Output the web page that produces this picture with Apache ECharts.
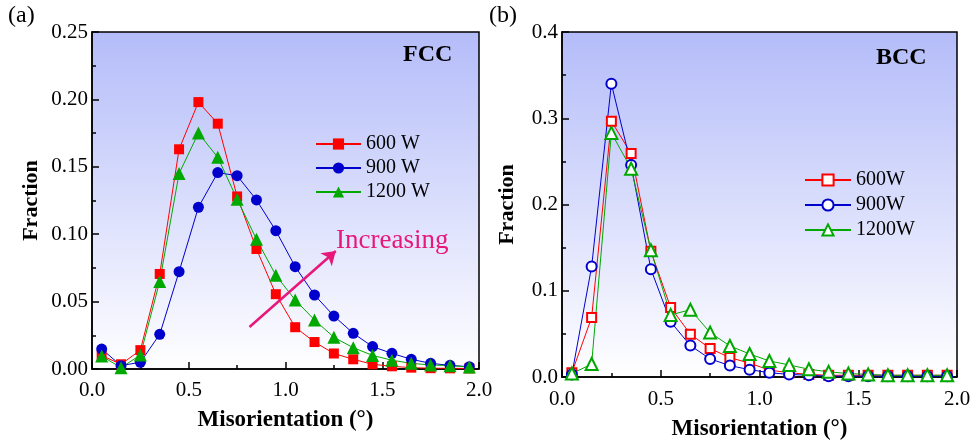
<!DOCTYPE html>
<html>
<head>
<meta charset="utf-8">
<script src="https://cdn.jsdelivr.net/npm/echarts@6/dist/echarts.min.js"></script>
<style>
  html, body { margin: 0; padding: 0; background: #fff; }
  #chart { width: 971px; height: 440px; }
</style>
</head>
<body>
<div id="chart"></div>
<script>
// misorientation bins (deg)
var misAngle = [0.05, 0.15, 0.25, 0.35, 0.45, 0.55, 0.65, 0.75, 0.85, 0.95,
                1.05, 1.15, 1.25, 1.35, 1.45, 1.55, 1.65, 1.75, 1.85, 1.95];

// (a) FCC
var fcc600 = [0.010, 0.0035, 0.014, 0.0705, 0.163, 0.198, 0.182, 0.128, 0.089, 0.0555,
              0.031, 0.020, 0.0115, 0.0072, 0.0035, 0.002, 0.001, 0.0006, 0.0005, 0.0004];
var fcc900 = [0.0148, 0.0025, 0.005, 0.0257, 0.0722, 0.120, 0.1457, 0.1434, 0.1254, 0.1026,
              0.0759, 0.0549, 0.0393, 0.0265, 0.0166, 0.0116, 0.0072, 0.0042, 0.0027, 0.0017];
var fcc1200 = [0.0096, 0.001, 0.0104, 0.065, 0.145, 0.175, 0.157, 0.126, 0.0962, 0.0695,
               0.0512, 0.0364, 0.0235, 0.0158, 0.0101, 0.0065, 0.0042, 0.003, 0.0025, 0.0015];

// (b) BCC
var bcc600 = [0.005, 0.069, 0.2965, 0.259, 0.1457, 0.0806, 0.0496, 0.033, 0.0225, 0.016,
              0.008, 0.005, 0.003, 0.002, 0.002, 0.002, 0.002, 0.002, 0.002, 0.002];
var bcc900 = [0.003, 0.128, 0.340, 0.2457, 0.125, 0.064, 0.0364, 0.021, 0.0132, 0.0085,
              0.005, 0.003, 0.002, 0.001, 0.001, 0.001, 0.001, 0.001, 0.001, 0.001];
var bcc1200 = [0.004, 0.015, 0.283, 0.2415, 0.147, 0.072, 0.078, 0.0515, 0.036, 0.0267,
               0.0186, 0.014, 0.009, 0.006, 0.004, 0.003, 0.002, 0.002, 0.002, 0.002];

// arrow "Increasing" in panel (a), data coords
var arrowFrom = [0.814, 0.0312];
var arrowTo = [1.26, 0.0875];

function pairs(ys) {
  return misAngle.map(function (x, i) { return [x, ys[i]]; });
}

var serif = 'Liberation Serif';
var bgGrad = new echarts.graphic.LinearGradient(0, 0, 0, 1, [
  { offset: 0, color: '#b4bcf9' },
  { offset: 1, color: '#ffffff' }
]);

function xAxisOpt(idx, gap, margin) {
  return {
    type: 'value', gridIndex: idx, min: 0, max: 2, interval: 0.5,
    name: 'Misorientation (°)', nameLocation: 'middle', nameGap: gap,
    nameTextStyle: { fontFamily: serif, fontWeight: 'bold', fontSize: 23, color: '#000' },
    axisLine: { lineStyle: { color: '#000', width: 1.5 } },
    axisTick: { inside: true, length: 7, lineStyle: { color: '#000', width: 1.5 } },
    minorTick: { show: true, splitNumber: 2, length: 4, lineStyle: { color: '#000', width: 1.5 } },
    splitLine: { show: false },
    axisLabel: { fontFamily: serif, fontSize: 21, color: '#000', margin: margin,
      formatter: function (v) { return v.toFixed(1); } }
  };
}

function yAxisOpt(idx, max, interval, dec, gap) {
  return {
    type: 'value', gridIndex: idx, min: 0, max: max, interval: interval,
    name: 'Fraction', nameLocation: 'middle', nameGap: gap,
    nameTextStyle: { fontFamily: serif, fontWeight: 'bold', fontSize: 22, color: '#000' },
    axisLine: { lineStyle: { color: '#000', width: 1.5 } },
    axisTick: { inside: true, length: 7, lineStyle: { color: '#000', width: 1.5 } },
    minorTick: { show: true, splitNumber: 2, length: 4, lineStyle: { color: '#000', width: 1.5 } },
    splitLine: { show: false },
    axisLabel: { fontFamily: serif, fontSize: 21, color: '#000', margin: 4,
      formatter: function (v) { return v.toFixed(dec); } }
  };
}

function lineSeries(name, idx, ys, symbol, size, color, hollow) {
  return {
    name: name, type: 'line', xAxisIndex: idx, yAxisIndex: idx,
    data: pairs(ys),
    symbol: symbol, symbolSize: size, showAllSymbol: true,
    lineStyle: { color: color, width: 1 },
    itemStyle: hollow ? { color: color, borderColor: color, borderWidth: 2 } : { color: color },
    emphasis: { disabled: true }
  };
}

var series = [
  lineSeries('600 W', 0, fcc600, 'rect', 10, '#ff0000', false),
  lineSeries('900 W', 0, fcc900, 'circle', 11, '#0000cc', false),
  lineSeries('1200 W', 0, fcc1200, 'triangle', 13, '#00a800', false),
  lineSeries('600W', 1, bcc600, 'emptyRect', 9, '#ff0000', true),
  lineSeries('900W', 1, bcc900, 'emptyCircle', 10, '#0000cc', true),
  lineSeries('1200W', 1, bcc1200, 'emptyTriangle', 12, '#00a800', true)
];

series[2].markLine = {
  silent: true, symbol: ['none', 'arrow'], symbolSize: 13,
  label: { show: false },
  lineStyle: { color: '#e8177a', width: 2.5, type: 'solid' },
  itemStyle: { color: '#e8177a' },
  data: [[{ coord: arrowFrom }, { coord: arrowTo }]]
};

var legendText = { fontFamily: serif, fontSize: 20, color: '#000' };

var option = {
  animation: false,
  backgroundColor: '#fff',
  grid: [
    { left: 92, top: 32, width: 387, height: 337, show: true, backgroundColor: bgGrad,
      borderColor: '#000', borderWidth: 1.5, outerBoundsMode: 'none', containLabel: false },
    { left: 562, top: 32, width: 395, height: 345, show: true, backgroundColor: bgGrad,
      borderColor: '#000', borderWidth: 1.5, outerBoundsMode: 'none', containLabel: false }
  ],
  xAxis: [xAxisOpt(0, 40, 11), xAxisOpt(1, 41, 12)],
  yAxis: [yAxisOpt(0, 0.25, 0.05, 2, 50), yAxisOpt(1, 0.4, 0.1, 1, 44)],
  legend: [
    { data: ['600 W', '900 W', '1200 W'], orient: 'vertical', left: 310, top: 129,
      itemWidth: 45, itemHeight: 14, itemGap: 4, textStyle: legendText, selectedMode: false },
    { data: ['600W', '900W', '1200W'], orient: 'vertical', left: 799, top: 165,
      itemWidth: 46, itemHeight: 14, itemGap: 5, textStyle: legendText, selectedMode: false }
  ],
  graphic: [
    { type: 'text', left: 8, top: 4, style: { text: '(a)', font: '24px "Liberation Serif"', fill: '#000' } },
    { type: 'text', left: 489, top: 4, style: { text: '(b)', font: '24px "Liberation Serif"', fill: '#000' } },
    { type: 'text', left: 403, top: 43, style: { text: 'FCC', font: 'bold 24px "Liberation Serif"', fill: '#000' } },
    { type: 'text', left: 876, top: 46, style: { text: 'BCC', font: 'bold 24px "Liberation Serif"', fill: '#000' } },
    { type: 'text', left: 336, top: 227, style: { text: 'Increasing', font: '27px "Liberation Serif"', fill: '#e8177a' } }
  ],
  series: series
};

var chart = echarts.init(document.getElementById('chart'));
chart.setOption(option);
</script>
</body>
</html>
